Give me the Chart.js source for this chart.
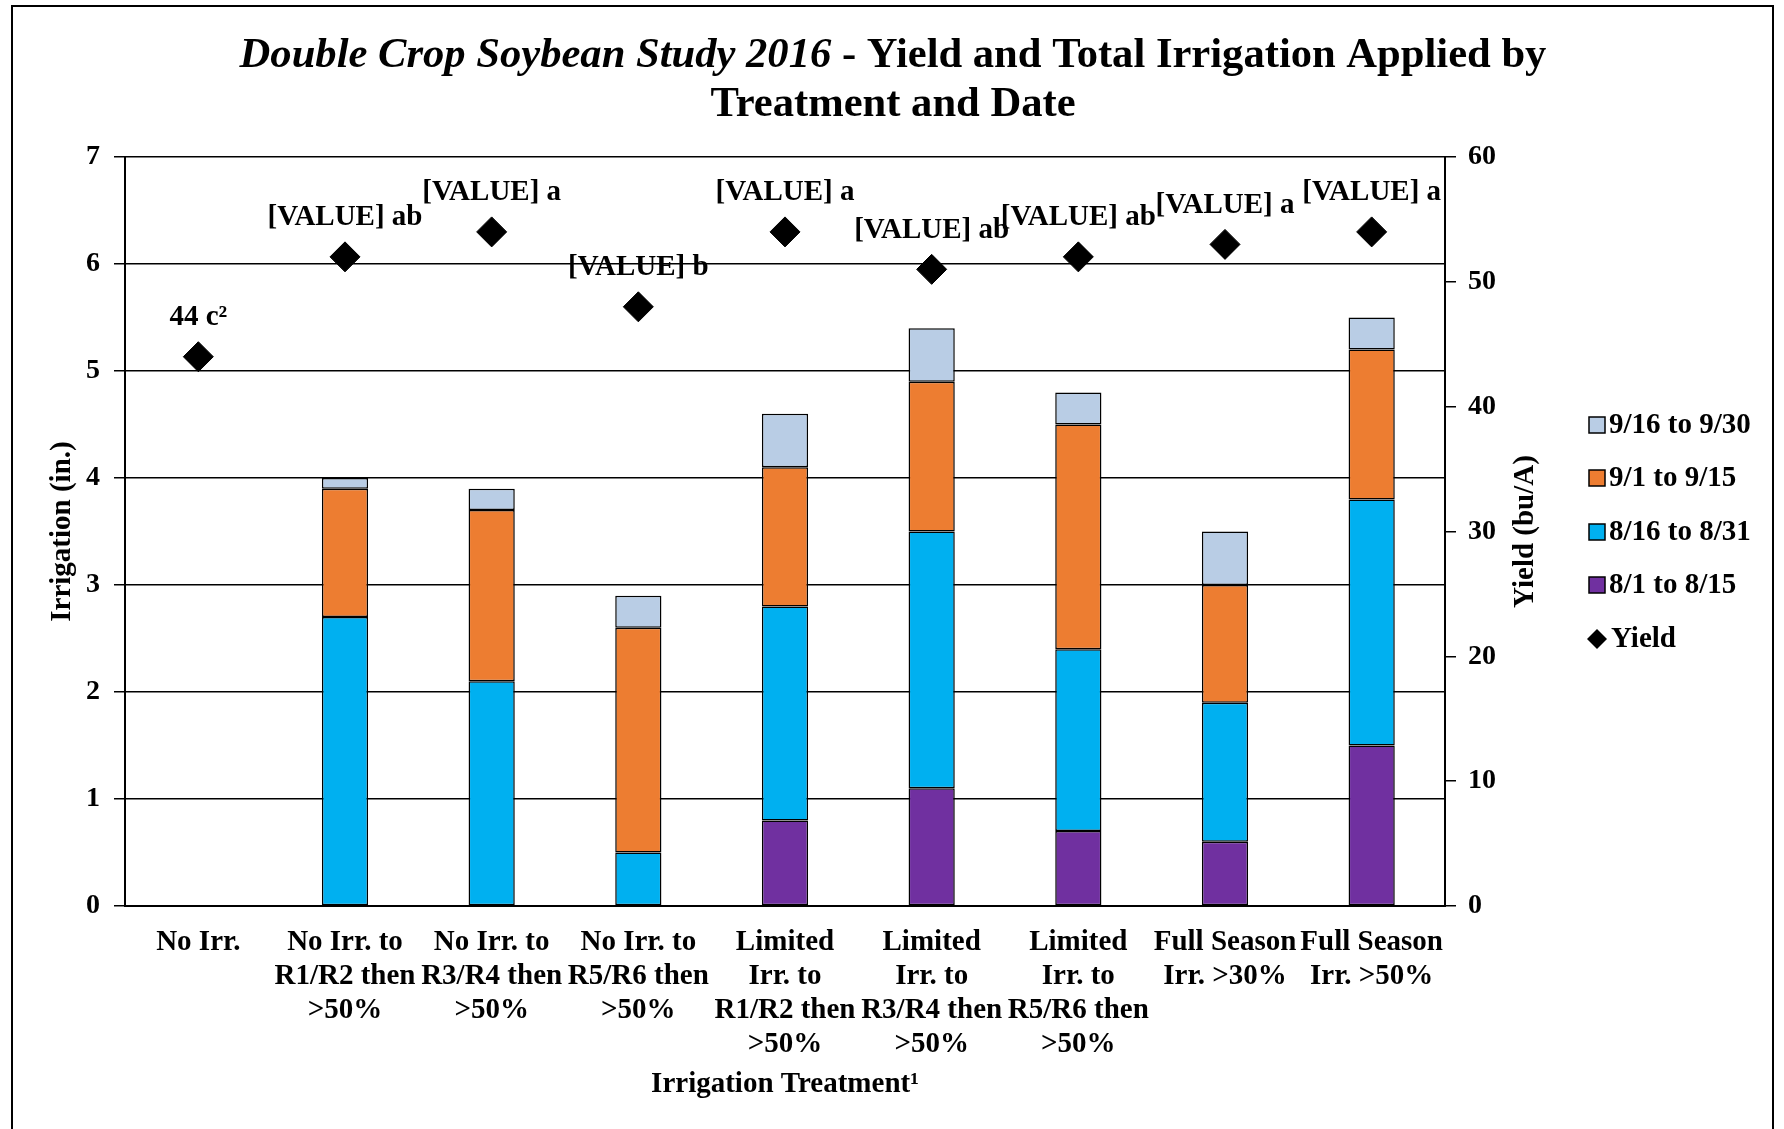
<!DOCTYPE html>
<html><head><meta charset="utf-8">
<script src="https://cdn.jsdelivr.net/npm/chart.js@4.4.0/dist/chart.umd.min.js"></script>
<style>html,body{margin:0;padding:0;background:#fff;}canvas{display:block;}</style>
</head><body>
<canvas id="c" width="1784" height="1129"></canvas>
<script>
// ---- data ----
const categories = [
  ["No Irr."],
  ["No Irr. to", "R1/R2 then", ">50%"],
  ["No Irr. to", "R3/R4 then", ">50%"],
  ["No Irr. to", "R5/R6 then", ">50%"],
  ["Limited", "Irr. to", "R1/R2 then", ">50%"],
  ["Limited", "Irr. to", "R3/R4 then", ">50%"],
  ["Limited", "Irr. to", "R5/R6 then", ">50%"],
  ["Full Season", "Irr. >30%"],
  ["Full Season", "Irr. >50%"]
];
const seriesNames = ["8/1 to 8/15", "8/16 to 8/31", "9/1 to 9/15", "9/16 to 9/30"];
const aug1to15  = [0, 0,   0,   0,   0.8, 1.1, 0.7, 0.6, 1.5];
const aug16to31 = [0, 2.7, 2.1, 0.5, 2.0, 2.4, 1.7, 1.3, 2.3];
const sep1to15  = [0, 1.2, 1.6, 2.1, 1.3, 1.4, 2.1, 1.1, 1.4];
const sep16to30 = [0, 0.1, 0.2, 0.3, 0.5, 0.5, 0.3, 0.5, 0.3];
const yieldValues = [44, 52, 54, 48, 54, 51, 52, 53, 54];
const yieldLabels = ["44 c\u00B2", "[VALUE] ab", "[VALUE] a", "[VALUE] b", "[VALUE] a", "[VALUE] ab", "[VALUE] ab", "[VALUE] a", "[VALUE] a"];
const irrigationAxis = { min: 0, max: 7, step: 1 };
const yieldAxis = { min: 0, max: 60, step: 10 };
const titleItalic = "Double Crop Soybean Study 2016";
const titleRest = " - Yield and Total Irrigation Applied by";
const titleLine2 = "Treatment and Date";
const leftTitle = "Irrigation (in.)";
const rightTitle = "Yield (bu/A)";
const xTitle = "Irrigation Treatment\u00B9";

// ---- styles ----
const FF = "'Liberation Serif', 'Times New Roman', serif";
const colors = ["#7030A0", "#00B0F0", "#ED7D31", "#B9CDE5"];
const barSeries = [aug1to15, aug16to31, sep1to15, sep16to30];

const datasets = barSeries.map((d, i) => ({
  type: 'bar', label: seriesNames[i], data: d, backgroundColor: colors[i],
  borderColor: '#000', borderWidth: 1.5, borderSkipped: false,
  stack: 'irr', yAxisID: 'y', order: 1,
  categoryPercentage: 1, barPercentage: 0.315
}));
datasets.push({
  type: 'line', label: 'Yield', data: yieldValues, yAxisID: 'y2', showLine: false,
  pointStyle: 'rectRot', pointRadius: 15, pointHoverRadius: 15,
  pointBackgroundColor: '#000', pointBorderColor: '#000', pointBorderWidth: 1, order: 0
});

const deco = {
  id: 'deco',
  beforeDraw(chart) {
    const ctx = chart.ctx;
    ctx.save();
    ctx.fillStyle = '#fff';
    ctx.fillRect(0, 0, chart.width, chart.height);
    ctx.strokeStyle = '#000';
    ctx.lineWidth = 2;
    ctx.strokeRect(12, 6, 1761, 1200);
    ctx.restore();
  },
  afterDraw(chart) {
    const ctx = chart.ctx;
    const ca = chart.chartArea;
    ctx.save();
    ctx.fillStyle = '#000';
    // Title
    const fI = "italic bold 42.6px " + FF, fB = "bold 42.6px " + FF;
    ctx.font = fI; const w1 = ctx.measureText(titleItalic).width;
    ctx.font = fB; const w2 = ctx.measureText(titleRest).width;
    const cx = 893;
    let x0 = cx - (w1 + w2) / 2;
    ctx.textBaseline = 'middle'; ctx.textAlign = 'left';
    ctx.font = fI; ctx.fillText(titleItalic, x0, 56);
    ctx.font = fB; ctx.fillText(titleRest, x0 + w1, 56);
    ctx.textAlign = 'center';
    ctx.fillText(titleLine2, cx, 105);
    // axis titles
    ctx.font = "bold 29px " + FF;
    ctx.save(); ctx.translate(63, (ca.top + ca.bottom) / 2); ctx.rotate(-Math.PI / 2);
    ctx.fillText(leftTitle, 0, 0); ctx.restore();
    ctx.save(); ctx.translate(1526, (ca.top + ca.bottom) / 2); ctx.rotate(-Math.PI / 2);
    ctx.fillText(rightTitle, 0, 0); ctx.restore();
    ctx.fillText(xTitle, (ca.left + ca.right) / 2, 1085);
    // point labels
    const meta = chart.getDatasetMeta(4);
    ctx.font = "bold 29px " + FF;
    meta.data.forEach((pt, i) => { ctx.fillText(yieldLabels[i], pt.x, pt.y - 39); });
    // legend
    const items = [3, 2, 1, 0];
    const ys = [425, 478, 532, 585, 639];
    ctx.textAlign = 'left';
    items.forEach((si, k) => {
      ctx.fillStyle = colors[si];
      ctx.fillRect(1589, ys[k] - 8, 16, 16);
      ctx.strokeStyle = '#000'; ctx.lineWidth = 1.5;
      ctx.strokeRect(1589, ys[k] - 8, 16, 16);
      ctx.fillStyle = '#000';
      ctx.fillText(seriesNames[si], 1609, ys[k] + 1);
    });
    ctx.beginPath();
    ctx.moveTo(1597, ys[4] - 10); ctx.lineTo(1607, ys[4]); ctx.lineTo(1597, ys[4] + 10); ctx.lineTo(1587, ys[4]);
    ctx.closePath(); ctx.fill();
    ctx.fillText("Yield", 1611, ys[4] + 1);
    ctx.restore();
  }
};

new Chart(document.getElementById('c'), {
  data: { labels: categories, datasets },
  options: {
    responsive: false, animation: false, devicePixelRatio: 1,
    layout: { padding: { top: 157, left: 0, right: 0, bottom: 0 } },
    plugins: { legend: { display: false }, title: { display: false }, tooltip: { enabled: false } },
    scales: {
      x: {
        stacked: true,
        grid: { display: true, drawOnChartArea: false, drawTicks: false },
        border: { display: true, color: '#000', width: 2 },
        ticks: { color: '#000', font: { family: FF, size: 29, weight: 'bold', lineHeight: 1.165 },
                 padding: 20, maxRotation: 0, minRotation: 0, autoSkip: false },
        afterFit(s) { s.height = 1129 - 906; }
      },
      y: {
        stacked: true, position: 'left', min: irrigationAxis.min, max: irrigationAxis.max,
        grid: { color: '#000', lineWidth: 1.5, tickLength: 11 },
        border: { display: true, color: '#000', width: 2 },
        ticks: { stepSize: irrigationAxis.step, color: '#000', padding: 14,
                 font: { family: FF, size: 28, weight: 'bold' } },
        afterFit(s) { s.width = 125; }
      },
      y2: {
        position: 'right', min: yieldAxis.min, max: yieldAxis.max,
        grid: { drawOnChartArea: false, color: '#000', lineWidth: 1.5, tickLength: 11 },
        border: { display: true, color: '#000', width: 2 },
        ticks: { stepSize: yieldAxis.step, color: '#000', padding: 12,
                 font: { family: FF, size: 28, weight: 'bold' } },
        afterFit(s) { s.width = 1784 - 1445; }
      }
    }
  },
  plugins: [deco]
});
</script>
</body></html>
